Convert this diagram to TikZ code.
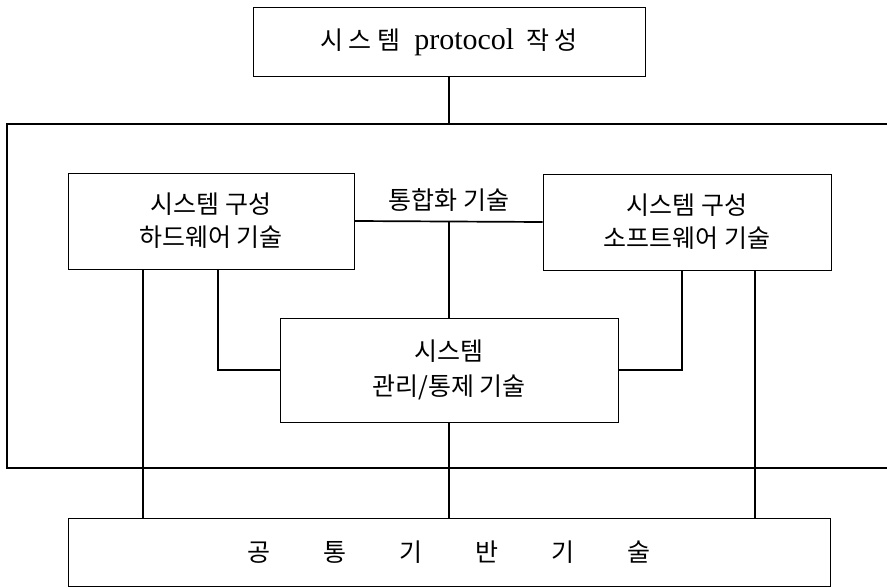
\documentclass[tikz,border=0pt]{standalone}
\usepackage{fontspec}
\setmainfont{Noto Sans CJK KR}
\newfontfamily\kr[LetterSpace=22]{Noto Sans CJK KR}
\newfontfamily\latserif{Liberation Serif}
\begin{document}
\begin{tikzpicture}[x=1pt,y=-1pt,
  box/.style={draw,line width=0.9pt,inner sep=0pt,align=center,font=\fontsize{25}{33}\selectfont},
  conn/.style={line width=1.7pt}]
\useasboundingbox (0,0) rectangle (887,588);
\node[box,minimum width=392pt,minimum height=69pt] (top) at (449,42)
  {{\kr\fontsize{25}{30}\selectfont 시스템}\hspace{14pt}{\latserif\fontsize{30}{30}\selectfont protocol}\hspace{12pt}{\kr\fontsize{25}{30}\selectfont 작성}};
\node[box,minimum width=286pt,minimum height=96pt] (hw) at (211,221) {시스템 구성\\하드웨어 기술};
\node[box,minimum width=288pt,minimum height=96pt] (sw) at (687,222) {시스템 구성\\소프트웨어 기술};
\node[box,minimum width=338pt,minimum height=104pt,font=\fontsize{25}{35}\selectfont] (ctr) at (449,370) {시스템\\관리/통제 기술};
\node[box,minimum width=762pt,minimum height=68pt] (base) at (449,552)
  {공\hspace{53pt}통\hspace{53pt}기\hspace{53pt}반\hspace{53pt}기\hspace{53pt}술};
\node[font=\fontsize{25}{30}\selectfont,inner sep=0pt] (lbl) at (449,200) {통합화 기술};
% outer frame
\coordinate (oTL) at (7,124);
\coordinate (oTR) at (887,124);
\coordinate (oBL) at (7,468);
\coordinate (oBR) at (887,468);
\draw[conn] (oTR) -- (oTL) -- (oBL) -- (oBR);
\draw[conn] (top.south) -- (top.south |- oTL);
% integration line
\draw[conn] (hw.east) -- (sw.west);
\coordinate (mid) at (449,222);
\draw[conn] (mid) -- (ctr.north);
\draw[conn] (ctr.south) -- (base.north);
% hw / sw links
\coordinate (h1) at (143,0);
\coordinate (h2) at (218,0);
\coordinate (s1) at (682,0);
\coordinate (s2) at (755,0);
\draw[conn] (hw.south -| h1) -- (base.north -| h1);
\draw[conn] (hw.south -| h2) |- (ctr.west);
\draw[conn] (sw.south -| s1) |- (ctr.east);
\draw[conn] (sw.south -| s2) -- (base.north -| s2);
\end{tikzpicture}
\end{document}
